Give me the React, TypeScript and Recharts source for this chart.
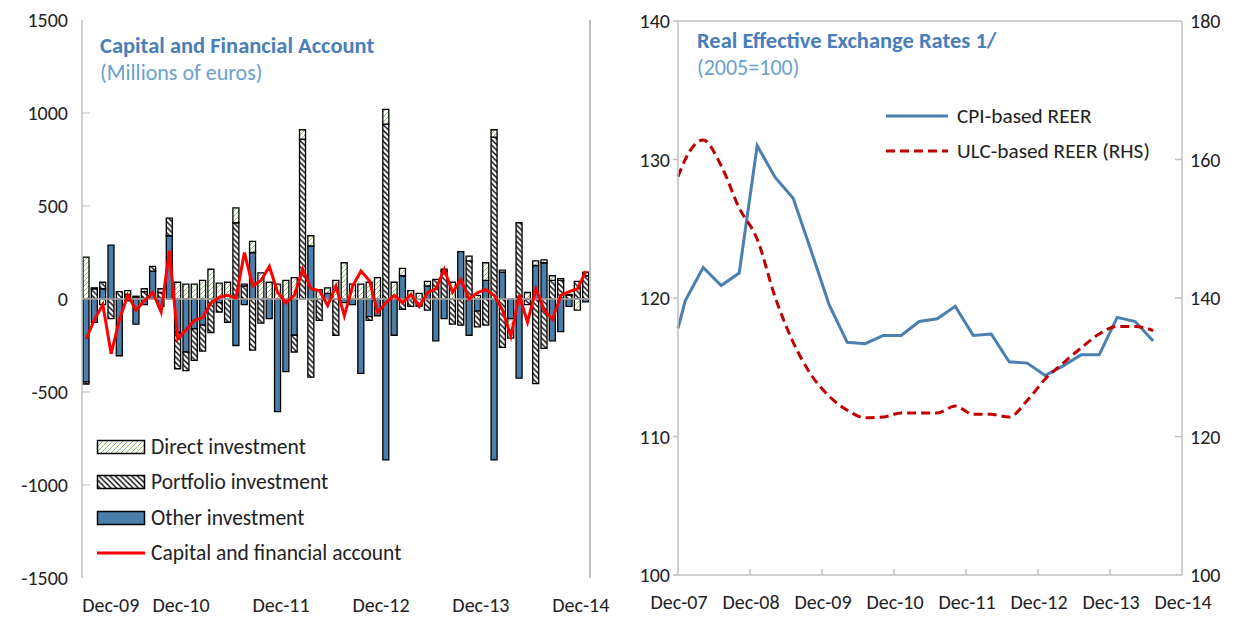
import {
  ComposedChart,
  Bar,
  Line,
  XAxis,
  YAxis,
  ReferenceLine,
} from "recharts";

const FONT = "Carlito, Lato, sans-serif";

// monthly categories Dec-09 .. Dec-14
const monthNames = ["Jan", "Feb", "Mar", "Apr", "May", "Jun", "Jul", "Aug", "Sep", "Oct", "Nov", "Dec"];
const months = Array.from({ length: 61 }, (_, i) => {
  const m = (11 + i) % 12;
  const y = 9 + Math.floor((11 + i) / 12);
  return `${monthNames[m]}-${String(y).padStart(2, "0")}`;
});

// Millions of euros
const directInvestment = [
  225, 5, -30, 0, 0, 20, 5, 15, 0, 20,
  0, 90, 80, 80, 100, 160, 85, 90, 80, 10,
  60, 140, 90, 80, 100, 115, 50, 55, 50, 30,
  100, 195, 80, 80, 90, 115, 80, 90, 40, 45,
  30, 25, 0, 10, 90, 0, 25, 20, 95, 40,
  10, -105, 0, 35, 25, 15, 25, 10, 5, -60,
  20,
];
const portfolioInvestment = [
  -12, 55, 35, -105, 40, 25, 10, 40, 25, 35,
  95, -195, -100, -170, -140, -180, -50, -125, 410, 70,
  -275, -130, 0, 0, 0, -90, 860, -420, -115, 0,
  -195, 0, 0, 0, -20, 0, 940, 0, -55, -40,
  -40, -60, 105, 150, -135, -140, 205, -85, -140, 870,
  -260, 0, 410, -30, -455, -265, 100, 100, 20, 95,
  125,
];
const otherInvestment = [
  -445, -125, 55, 290, -305, -10, -135, -30, 150, -40,
  340, -180, -285, -160, -140, 0, -20, 0, -250, -30,
  250, 0, -105, -605, -390, -195, 0, 285, 0, 30,
  0, -20, -30, -400, -95, -90, -865, -195, 125, 0,
  0, 70, -225, -105, 0, 255, -195, -65, 100, -865,
  145, -105, -425, 0, 180, 195, -225, -175, -40, 0,
  -15,
];
const capFinAccount = [
  -215, -110, -30, -295, -110, 20, -60, -10, 35, -70,
  260, -215, -165, -115, -100, -20, 10, 20, 5, 250,
  70, 100, 175, 35, -20, 20, 160, 55, 45, -35,
  70, -90, 70, 150, 100, -70, -20, 20, -20, 25,
  -40, 35, 55, 160, 35, 105, 0, 35, 50, 20,
  -60, -200, 20, -125, 55, -60, -110, 20, 40, 55,
  150,
];
const flowTicks = [-1500, -1000, -500, 0, 500, 1000, 1500];

// REER, quarters since Dec-07
const reerPeriods = [0, 0.4, 1.4, 2.4, 3.4, 4.4, 5.4, 6.4, 7.4, 8.4, 9.4, 10.4, 11.4, 12.4, 13.4, 14.4, 15.4, 16.4, 17.4, 18.4, 19.4, 20.4, 21.4, 22.4, 23.4, 24.4, 25.4, 26.4];
const cpiReer = [117.8, 119.8, 122.2, 120.9, 121.8, 131.0, 128.7, 127.2, 123.4, 119.5, 116.8, 116.7, 117.3, 117.3, 118.3, 118.5, 119.4, 117.3, 117.4, 115.4, 115.3, 114.4, 115.1, 115.9, 115.9, 118.6, 118.3, 116.9];
const ulcReer = [157.5, 160.0, 162.8, 159.1, 153.0, 148.5, 140.1, 133.6, 128.9, 125.8, 123.8, 122.7, 122.8, 123.4, 123.4, 123.4, 124.4, 123.2, 123.2, 122.8, 125.2, 128.3, 130.6, 132.8, 134.8, 135.9, 135.9, 135.3];
const reerYearLabels = ["Dec-07", "Dec-08", "Dec-09", "Dec-10", "Dec-11", "Dec-12", "Dec-13", "Dec-14"];

const flowData = months.map((month, i) => ({
  month,
  direct: directInvestment[i],
  portfolio: portfolioInvestment[i],
  other: otherInvestment[i],
  total: capFinAccount[i],
}));

const reerData = reerPeriods.map((t, i) => ({ t, cpi: cpiReer[i], ulc: ulcReer[i] }));

const BLUE_BAR = "#4a7fac";
const GRID = "#bfbfbf";
const TICK_FS = 20;

function Patterns({ suffix }: { suffix: string }) {
  return (
    <defs>
      <pattern id={`di${suffix}`} patternUnits="userSpaceOnUse" width="5" height="5">
        <rect width="5" height="5" fill="#fff" />
        <path d="M0,5 L5,0 M-1,1 L1,-1 M4,6 L6,4" stroke="#8cc06c" strokeWidth="1" />
      </pattern>
      <pattern id={`pf${suffix}`} patternUnits="userSpaceOnUse" width="5.5" height="5.5">
        <rect width="5.5" height="5.5" fill="#fff" />
        <path d="M0,0 L5.5,5.5 M-1,4.5 L1,6.5 M4.5,-1 L6.5,1" stroke="#000" strokeWidth="1.4" />
      </pattern>
    </defs>
  );
}

function MonthTick(props: any) {
  const { x, y, payload, index } = props;
  const first = index === 0;
  return (
    <text
      x={first ? x - 4 : x - 5}
      y={y + 26}
      textAnchor={first ? "start" : "middle"}
      fontFamily={FONT}
      fontSize={TICK_FS}
      fill="#222"
    >
      {payload.value}
    </text>
  );
}

function FlowTick(props: any) {
  const { x, y, payload } = props;
  const axisX = x + 14;
  return (
    <g>
      {payload.value !== 0 && Math.abs(payload.value) !== 1500 && (
        <line x1={axisX} x2={axisX + 8} y1={y} y2={y} stroke={GRID} />
      )}
      <text x={x} y={y} dy="0.35em" textAnchor="end" fontFamily={FONT} fontSize={TICK_FS} fill="#222">
        {payload.value}
      </text>
    </g>
  );
}

function FlowChart() {
  return (
    <div style={{ position: "absolute", left: 0, top: 0, width: 620, height: 620 }}>
      <ComposedChart
        width={620}
        height={620}
        data={flowData}
        stackOffset="sign"
        barCategoryGap="12%"
        margin={{ top: 20, right: 30, bottom: 12, left: 12 }}
      >
        <Patterns suffix="" />
        <XAxis dataKey="month" interval={11} axisLine={false} tickLine={false} height={30} tick={<MonthTick />} />
        <YAxis
          domain={[-1500, 1500]}
          ticks={flowTicks}
          width={70}
          tickSize={0}
          tickMargin={14}
          axisLine={{ stroke: GRID, strokeWidth: 1.5 }}
          tickLine={false}
          tick={<FlowTick />}
        />
        <Bar dataKey="other" stackId="a" fill={BLUE_BAR} stroke="#000" strokeWidth={1.3} isAnimationActive={false} />
        <Bar dataKey="portfolio" stackId="a" fill="url(#pf)" stroke="#000" strokeWidth={1.3} isAnimationActive={false} />
        <Bar dataKey="direct" stackId="a" fill="url(#di)" stroke="#000" strokeWidth={1.3} isAnimationActive={false} />
        <ReferenceLine y={0} stroke={GRID} strokeWidth={1.5} />
        <Line dataKey="total" type="linear" stroke="#ff0000" strokeWidth={3} dot={false} isAnimationActive={false} />
      </ComposedChart>
      <div style={{ position: "absolute", left: 589, top: 20, width: 0, height: 558, borderLeft: `2px solid ${GRID}` }} />
      <div style={{ position: "absolute", left: 100, top: 32, fontFamily: FONT, color: "#4a7ebb" }}>
        <div style={{ fontSize: 22.5, fontWeight: 700, lineHeight: "28px" }}>Capital and Financial Account</div>
        <div style={{ fontSize: 22, lineHeight: "26px", color: "#6a9fd0" }}>(Millions of euros)</div>
      </div>
      <FlowLegend />
    </div>
  );
}

function FlowLegend() {
  const rows = [
    { label: "Direct investment", kind: "di" },
    { label: "Portfolio investment", kind: "pf" },
    { label: "Other investment", kind: "oi" },
    { label: "Capital and financial account", kind: "line" },
  ];
  return (
    <div style={{ position: "absolute", left: 96, top: 429, fontFamily: FONT, fontSize: 21.5, color: "#222" }}>
      <svg width={0} height={0} style={{ position: "absolute" }}>
        <Patterns suffix="L" />
      </svg>
      {rows.map((r) => (
        <div key={r.label} style={{ display: "flex", alignItems: "center", height: 35.5 }}>
          <svg width={52} height={18} style={{ marginRight: 3 }}>
            {r.kind === "line" ? (
              <line x1={1} x2={49} y1={9} y2={9} stroke="#ff0000" strokeWidth={3} />
            ) : (
              <rect
                x={1.5}
                y={2.5}
                width={47}
                height={13}
                fill={r.kind === "oi" ? BLUE_BAR : `url(#${r.kind}L)`}
                stroke="#000"
                strokeWidth={1.5}
              />
            )}
          </svg>
          <span>{r.label}</span>
        </div>
      ))}
    </div>
  );
}

function YearTick(props: any) {
  const { x, y, payload } = props;
  const axisY = y - 6;
  const v = payload.value;
  return (
    <g>
      {v > 0 && v < 28 && <line x1={x} x2={x} y1={axisY} y2={axisY - 6} stroke={GRID} strokeWidth={1.5} />}
      <text x={x + 1} y={axisY + 34} textAnchor="middle" fontFamily={FONT} fontSize={TICK_FS} fill="#222">
        {reerYearLabels[v / 4]}
      </text>
    </g>
  );
}

function LeftReerTick(props: any) {
  const { x, y, payload } = props;
  return (
    <text x={x} y={y} dy="0.35em" textAnchor="end" fontFamily={FONT} fontSize={TICK_FS} fill="#222">
      {payload.value}
    </text>
  );
}

function RightReerTick(props: any) {
  const { x, y, payload } = props;
  const axisX = x - 8;
  const v = payload.value;
  return (
    <g>
      {v > 100 && v < 180 && <line x1={axisX - 7} x2={axisX} y1={y} y2={y} stroke={GRID} strokeWidth={1.5} />}
      <text x={x} y={y} dy="0.35em" textAnchor="start" fontFamily={FONT} fontSize={TICK_FS} fill="#222">
        {v}
      </text>
    </g>
  );
}

function ReerChart() {
  return (
    <div style={{ position: "absolute", left: 620, top: 0, width: 619, height: 620 }}>
      <ComposedChart width={619} height={620} data={reerData} margin={{ top: 21, right: 7, bottom: 15, left: 8 }}>
        <XAxis
          type="number"
          dataKey="t"
          domain={[0, 28]}
          ticks={[0, 4, 8, 12, 16, 20, 24, 28]}
          height={30}
          tickSize={0}
          tickMargin={6}
          axisLine={{ stroke: GRID, strokeWidth: 1.5 }}
          tickLine={false}
          tick={<YearTick />}
        />
        <YAxis
          yAxisId="l"
          domain={[100, 140]}
          ticks={[100, 110, 120, 130, 140]}
          width={50}
          tickSize={5}
          tickMargin={3}
          axisLine={{ stroke: GRID, strokeWidth: 1.5 }}
          tickLine={{ stroke: GRID, strokeWidth: 1.5 }}
          tick={<LeftReerTick />}
        />
        <YAxis
          yAxisId="r"
          orientation="right"
          domain={[100, 180]}
          ticks={[100, 120, 140, 160, 180]}
          width={50}
          tickSize={0}
          tickMargin={8}
          axisLine={{ stroke: GRID, strokeWidth: 1.5 }}
          tickLine={false}
          tick={<RightReerTick />}
        />
        <ReferenceLine yAxisId="l" y={140} stroke={GRID} strokeWidth={1.5} />
        <Line yAxisId="l" dataKey="cpi" type="linear" stroke="#4a7fb0" strokeWidth={3} dot={false} isAnimationActive={false} />
        <Line
          yAxisId="r"
          dataKey="ulc"
          type="monotone"
          stroke="#c00000"
          strokeWidth={3}
          strokeDasharray="9 5"
          dot={false}
          isAnimationActive={false}
        />
      </ComposedChart>
      <div style={{ position: "absolute", left: 77, top: 27, fontFamily: FONT, color: "#4a7ebb" }}>
        <div style={{ fontSize: 22.5, fontWeight: 700, lineHeight: "28px" }}>Real Effective Exchange Rates 1/</div>
        <div style={{ fontSize: 22, lineHeight: "26px", color: "#6a9fd0" }}>(2005=100)</div>
      </div>
      <div style={{ position: "absolute", left: 265, top: 99, fontFamily: FONT, fontSize: 21.3, color: "#222" }}>
        <div style={{ display: "flex", alignItems: "center", height: 34.5 }}>
          <svg width={70} height={10} style={{ marginRight: 2 }}>
            <line x1={1} x2={63} y1={5} y2={5} stroke="#4a7fb0" strokeWidth={3} />
          </svg>
          <span>CPI-based REER</span>
        </div>
        <div style={{ display: "flex", alignItems: "center", height: 34.5 }}>
          <svg width={70} height={10} style={{ marginRight: 2 }}>
            <line x1={1} x2={63} y1={5} y2={5} stroke="#c00000" strokeWidth={3} strokeDasharray="9 5" />
          </svg>
          <span>ULC-based REER (RHS)</span>
        </div>
      </div>
    </div>
  );
}

export default function App() {
  return (
    <div style={{ position: "absolute", left: 0, top: 0, width: 1239, height: 620, background: "#fff", overflow: "hidden" }}>
      <FlowChart />
      <ReerChart />
    </div>
  );
}
